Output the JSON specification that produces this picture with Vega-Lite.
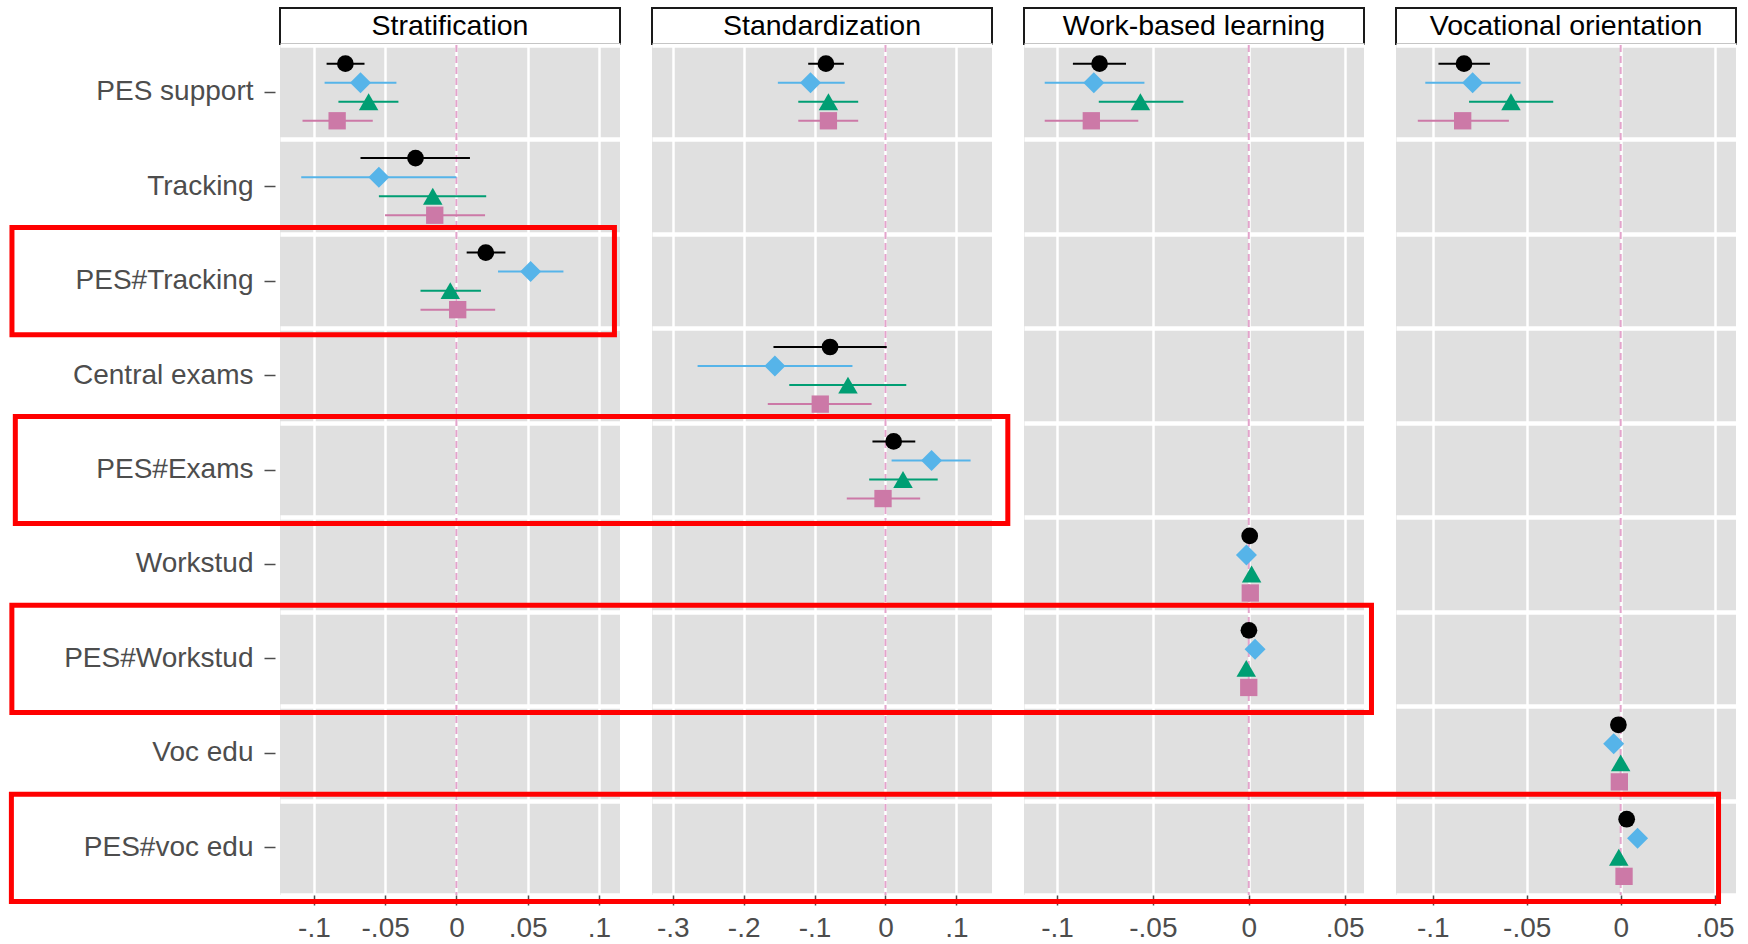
{
  "$schema": "https://vega.github.io/schema/vega-lite/v6.json",
  "background": "white",
  "padding": {"left": 8, "top": 7, "right": 5, "bottom": 5},
  "config": {"font": "Liberation Sans"},
  "datasets": {
    "est": [
      {"panel":"Stratification","term":"PES support","grp":"M1","est":-0.0779,"lo":-0.0911,"hi":-0.0645},
      {"panel":"Stratification","term":"PES support","grp":"M2","est":-0.0673,"lo":-0.0925,"hi":-0.0421},
      {"panel":"Stratification","term":"PES support","grp":"M3","est":-0.0616,"lo":-0.0828,"hi":-0.0407},
      {"panel":"Stratification","term":"PES support","grp":"M4","est":-0.0837,"lo":-0.108,"hi":-0.0587},
      {"panel":"Stratification","term":"Tracking","grp":"M1","est":-0.0287,"lo":-0.0673,"hi":0.0095},
      {"panel":"Stratification","term":"Tracking","grp":"M2","est":-0.0544,"lo":-0.1089,"hi":0.0},
      {"panel":"Stratification","term":"Tracking","grp":"M3","est":-0.0166,"lo":-0.0544,"hi":0.0209},
      {"panel":"Stratification","term":"Tracking","grp":"M4","est":-0.0152,"lo":-0.0501,"hi":0.0201},
      {"panel":"Stratification","term":"PES#Tracking","grp":"M1","est":0.0206,"lo":0.0072,"hi":0.0344},
      {"panel":"Stratification","term":"PES#Tracking","grp":"M2","est":0.0521,"lo":0.0292,"hi":0.0751},
      {"panel":"Stratification","term":"PES#Tracking","grp":"M3","est":-0.0043,"lo":-0.0252,"hi":0.0172},
      {"panel":"Stratification","term":"PES#Tracking","grp":"M4","est":0.0009,"lo":-0.0252,"hi":0.0272},
      {"panel":"Standardization","term":"PES support","grp":"M1","est":-0.084,"lo":-0.109,"hi":-0.0587},
      {"panel":"Standardization","term":"PES support","grp":"M2","est":-0.1058,"lo":-0.1518,"hi":-0.0575},
      {"panel":"Standardization","term":"PES support","grp":"M3","est":-0.0805,"lo":-0.123,"hi":-0.0385},
      {"panel":"Standardization","term":"PES support","grp":"M4","est":-0.0805,"lo":-0.123,"hi":-0.0385},
      {"panel":"Standardization","term":"Central exams","grp":"M1","est":-0.0782,"lo":-0.158,"hi":0.0017},
      {"panel":"Standardization","term":"Central exams","grp":"M2","est":-0.156,"lo":-0.265,"hi":-0.0466},
      {"panel":"Standardization","term":"Central exams","grp":"M3","est":-0.0529,"lo":-0.1357,"hi":0.0293},
      {"panel":"Standardization","term":"Central exams","grp":"M4","est":-0.092,"lo":-0.166,"hi":-0.0196},
      {"panel":"Standardization","term":"PES#Exams","grp":"M1","est":0.0115,"lo":-0.0184,"hi":0.042},
      {"panel":"Standardization","term":"PES#Exams","grp":"M2","est":0.065,"lo":0.0086,"hi":0.12},
      {"panel":"Standardization","term":"PES#Exams","grp":"M3","est":0.0247,"lo":-0.023,"hi":0.0736},
      {"panel":"Standardization","term":"PES#Exams","grp":"M4","est":-0.0035,"lo":-0.0546,"hi":0.0489},
      {"panel":"Work-based learning","term":"PES support","grp":"M1","est":-0.0778,"lo":-0.0917,"hi":-0.064},
      {"panel":"Work-based learning","term":"PES support","grp":"M2","est":-0.0808,"lo":-0.1064,"hi":-0.0544},
      {"panel":"Work-based learning","term":"PES support","grp":"M3","est":-0.0565,"lo":-0.0782,"hi":-0.0341},
      {"panel":"Work-based learning","term":"PES support","grp":"M4","est":-0.0821,"lo":-0.1064,"hi":-0.0576},
      {"panel":"Work-based learning","term":"Workstud","grp":"M1","est":0.0005,"lo":0.0001,"hi":0.0009},
      {"panel":"Work-based learning","term":"Workstud","grp":"M2","est":-0.0012,"lo":-0.0016,"hi":-0.0008},
      {"panel":"Work-based learning","term":"Workstud","grp":"M3","est":0.0015,"lo":0.0011,"hi":0.0019},
      {"panel":"Work-based learning","term":"Workstud","grp":"M4","est":0.0008,"lo":0.0004,"hi":0.0012},
      {"panel":"Work-based learning","term":"PES#Workstud","grp":"M1","est":0.0001,"lo":-0.0003,"hi":0.0005},
      {"panel":"Work-based learning","term":"PES#Workstud","grp":"M2","est":0.0033,"lo":0.0029,"hi":0.0037},
      {"panel":"Work-based learning","term":"PES#Workstud","grp":"M3","est":-0.0013,"lo":-0.0017,"hi":-0.0009},
      {"panel":"Work-based learning","term":"PES#Workstud","grp":"M4","est":0.0,"lo":-0.0004,"hi":0.0004},
      {"panel":"Vocational orientation","term":"PES support","grp":"M1","est":-0.0834,"lo":-0.097,"hi":-0.0696},
      {"panel":"Vocational orientation","term":"PES support","grp":"M2","est":-0.0788,"lo":-0.104,"hi":-0.0533},
      {"panel":"Vocational orientation","term":"PES support","grp":"M3","est":-0.0584,"lo":-0.0807,"hi":-0.0359},
      {"panel":"Vocational orientation","term":"PES support","grp":"M4","est":-0.0841,"lo":-0.108,"hi":-0.0595},
      {"panel":"Vocational orientation","term":"Voc edu","grp":"M1","est":-0.0012,"lo":-0.0016,"hi":-0.0008},
      {"panel":"Vocational orientation","term":"Voc edu","grp":"M2","est":-0.0037,"lo":-0.0041,"hi":-0.0033},
      {"panel":"Vocational orientation","term":"Voc edu","grp":"M3","est":0.0,"lo":-0.0004,"hi":0.0004},
      {"panel":"Vocational orientation","term":"Voc edu","grp":"M4","est":-0.0007,"lo":-0.0011,"hi":-0.0003},
      {"panel":"Vocational orientation","term":"PES#voc edu","grp":"M1","est":0.0032,"lo":0.0028,"hi":0.0036},
      {"panel":"Vocational orientation","term":"PES#voc edu","grp":"M2","est":0.009,"lo":0.0086,"hi":0.0094},
      {"panel":"Vocational orientation","term":"PES#voc edu","grp":"M3","est":-0.001,"lo":-0.0014,"hi":-0.0006},
      {"panel":"Vocational orientation","term":"PES#voc edu","grp":"M4","est":0.0018,"lo":0.0014,"hi":0.0022}
    ],
    "boxes": [
      {"panel":"Stratification","term":"PES#Tracking","from":-0.3119,"to":0.1109},
      {"panel":"Standardization","term":"PES#Exams","from":-1.2272,"to":0.1725},
      {"panel":"Work-based learning","term":"PES#Workstud","from":-0.645,"to":0.064},
      {"panel":"Vocational orientation","term":"PES#voc edu","from":-0.8567,"to":0.0521}
    ]
  },
  "columns": 4,
  "bounds": "flush",
  "align": "each",
  "spacing": {"row": 1, "column": 32},
  "concat": [
    {"width": 340, "height": 36, "view": {"fill": "white", "stroke": "#1a1a1a", "strokeWidth": 2},
     "data": {"values": [{"panel": "Stratification"}]},
     "mark": {"type": "text", "fontSize": 28.5, "color": "#000000"},
     "encoding": {"text": {"field": "panel"}}},
    {"width": 340, "height": 36, "view": {"fill": "white", "stroke": "#1a1a1a", "strokeWidth": 2},
     "data": {"values": [{"panel": "Standardization"}]},
     "mark": {"type": "text", "fontSize": 28.5, "color": "#000000"},
     "encoding": {"text": {"field": "panel"}}},
    {"width": 340, "height": 36, "view": {"fill": "white", "stroke": "#1a1a1a", "strokeWidth": 2},
     "data": {"values": [{"panel": "Work-based learning"}]},
     "mark": {"type": "text", "fontSize": 28.5, "color": "#000000"},
     "encoding": {"text": {"field": "panel"}}},
    {"width": 340, "height": 36, "view": {"fill": "white", "stroke": "#1a1a1a", "strokeWidth": 2},
     "data": {"values": [{"panel": "Vocational orientation"}]},
     "mark": {"type": "text", "fontSize": 28.5, "color": "#000000"},
     "encoding": {"text": {"field": "panel"}}},

    {"width": 340, "height": 850, "view": {"fill": "#E0E0E0", "stroke": null},
     "resolve": {"axis": {"y": "independent"}},
     "layer": [
      {"data": {"values": [{}]},
       "mark": {"type": "rule", "color": "#E3A3CB", "strokeDash": [7, 4], "strokeWidth": 2},
       "encoding": {"x": {"datum": 0, "type": "quantitative"}}},
      {"data": {"name": "est"}, "transform": [{"filter": "datum.panel === 'Stratification'"}],
       "mark": {"type": "rule", "strokeWidth": 2},
       "encoding": {
         "y": {"field": "term", "type": "nominal",
               "scale": {"domain": ["PES support","Tracking","PES#Tracking","Central exams","PES#Exams","Workstud","PES#Workstud","Voc edu","PES#voc edu"], "paddingInner": 0, "paddingOuter": 0},
               "axis": {"orient": "left", "title": null, "domain": false, "grid": false, "ticks": true, "tickSize": 11, "tickWidth": 1.5, "tickColor": "#4d4d4d", "labelFontSize": 28, "labelColor": "#4d4d4d", "labelPadding": 11, "labelLimit": 400, "offset": 5}},
         "yOffset": {"field": "grp", "type": "nominal", "scale": {"domain": ["M1","M2","M3","M4"], "paddingInner": 0, "paddingOuter": 0.48}},
         "x": {"field": "lo", "type": "quantitative",
               "scale": {"domain": [-0.1238, 0.1148], "nice": false, "zero": false},
               "axis": {"title": null, "values": [-0.1, -0.05, 0, 0.05, 0.1], "labelExpr": "datum.value == 0 ? '0' : (datum.value < 0 ? '-' : '') + replace(format(abs(datum.value), '.2~f'), '0.', '.')", "domain": false, "grid": true, "gridColor": "#ffffff", "gridWidth": 2.5, "tickSize": 10, "tickWidth": 1.5, "tickColor": "#4d4d4d", "labelFontSize": 28, "labelColor": "#4d4d4d", "labelPadding": 9, "labelFlush": false, "labelOverlap": false}},
         "x2": {"field": "hi"},
         "color": {"field": "grp", "type": "nominal", "scale": {"domain": ["M1","M2","M3","M4"], "range": ["#000000","#56B4E9","#009E73","#CC79A7"]}, "legend": null}
       }},
      {"data": {"name": "est"}, "transform": [{"filter": "datum.panel === 'Stratification'"}],
       "mark": {"type": "point", "filled": true, "opacity": 1},
       "encoding": {
         "y": {"field": "term", "type": "nominal",
               "axis": {"orient": "left", "title": null, "domain": false, "labels": false, "ticks": false, "grid": true, "tickBand": "extent", "gridColor": "#ffffff", "gridWidth": 4.5}},
         "yOffset": {"field": "grp", "type": "nominal"},
         "x": {"field": "est", "type": "quantitative"},
         "color": {"field": "grp", "type": "nominal", "legend": null},
         "shape": {"field": "grp", "type": "nominal", "scale": {"domain": ["M1","M2","M3","M4"], "range": ["circle","diamond","triangle-up","square"]}, "legend": null},
         "size": {"condition": [{"test": "datum.grp === 'M2'", "value": 441}, {"test": "datum.grp === 'M3'", "value": 380}, {"test": "datum.grp === 'M4'", "value": 300}], "value": 280}
       }},
      {"data": {"name": "boxes"}, "transform": [{"filter": "datum.panel === 'Stratification'"}],
       "mark": {"type": "bar", "fill": "transparent", "stroke": "#FF0000", "strokeWidth": 5, "height": {"band": 1.135}, "clip": false},
       "encoding": {
         "y": {"field": "term", "type": "nominal", "axis": null},
         "x": {"field": "from", "type": "quantitative"},
         "x2": {"field": "to"}
       }}
     ]},

    {"width": 340, "height": 850, "view": {"fill": "#E0E0E0", "stroke": null},
     "layer": [
      {"data": {"values": [{}]},
       "mark": {"type": "rule", "color": "#E3A3CB", "strokeDash": [7, 4], "strokeWidth": 2},
       "encoding": {"x": {"datum": 0, "type": "quantitative"}}},
      {"data": {"name": "est"}, "transform": [{"filter": "datum.panel === 'Standardization'"}],
       "mark": {"type": "rule", "strokeWidth": 2},
       "encoding": {
         "y": {"field": "term", "type": "nominal",
               "scale": {"domain": ["PES support","Tracking","PES#Tracking","Central exams","PES#Exams","Workstud","PES#Workstud","Voc edu","PES#voc edu"], "paddingInner": 0, "paddingOuter": 0},
               "axis": {"orient": "left", "title": null, "domain": false, "labels": false, "ticks": false, "grid": true, "tickBand": "extent", "gridColor": "#ffffff", "gridWidth": 4.5}},
         "yOffset": {"field": "grp", "type": "nominal", "scale": {"domain": ["M1","M2","M3","M4"], "paddingInner": 0, "paddingOuter": 0.48}},
         "x": {"field": "lo", "type": "quantitative",
               "scale": {"domain": [-0.3293, 0.1502], "nice": false, "zero": false},
               "axis": {"title": null, "values": [-0.3, -0.2, -0.1, 0, 0.1], "labelExpr": "datum.value == 0 ? '0' : (datum.value < 0 ? '-' : '') + replace(format(abs(datum.value), '.2~f'), '0.', '.')", "domain": false, "grid": true, "gridColor": "#ffffff", "gridWidth": 2.5, "tickSize": 10, "tickWidth": 1.5, "tickColor": "#4d4d4d", "labelFontSize": 28, "labelColor": "#4d4d4d", "labelPadding": 9, "labelFlush": false, "labelOverlap": false}},
         "x2": {"field": "hi"},
         "color": {"field": "grp", "type": "nominal", "scale": {"domain": ["M1","M2","M3","M4"], "range": ["#000000","#56B4E9","#009E73","#CC79A7"]}, "legend": null}
       }},
      {"data": {"name": "est"}, "transform": [{"filter": "datum.panel === 'Standardization'"}],
       "mark": {"type": "point", "filled": true, "opacity": 1},
       "encoding": {
         "y": {"field": "term", "type": "nominal"},
         "yOffset": {"field": "grp", "type": "nominal"},
         "x": {"field": "est", "type": "quantitative"},
         "color": {"field": "grp", "type": "nominal", "legend": null},
         "shape": {"field": "grp", "type": "nominal", "scale": {"domain": ["M1","M2","M3","M4"], "range": ["circle","diamond","triangle-up","square"]}, "legend": null},
         "size": {"condition": [{"test": "datum.grp === 'M2'", "value": 441}, {"test": "datum.grp === 'M3'", "value": 380}, {"test": "datum.grp === 'M4'", "value": 300}], "value": 280}
       }},
      {"data": {"name": "boxes"}, "transform": [{"filter": "datum.panel === 'Standardization'"}],
       "mark": {"type": "bar", "fill": "transparent", "stroke": "#FF0000", "strokeWidth": 5, "height": {"band": 1.135}, "clip": false},
       "encoding": {
         "y": {"field": "term", "type": "nominal"},
         "x": {"field": "from", "type": "quantitative"},
         "x2": {"field": "to"}
       }}
     ]},

    {"width": 340, "height": 850, "view": {"fill": "#E0E0E0", "stroke": null},
     "layer": [
      {"data": {"values": [{}]},
       "mark": {"type": "rule", "color": "#E3A3CB", "strokeDash": [7, 4], "strokeWidth": 2},
       "encoding": {"x": {"datum": 0, "type": "quantitative"}}},
      {"data": {"name": "est"}, "transform": [{"filter": "datum.panel === 'Work-based learning'"}],
       "mark": {"type": "rule", "strokeWidth": 2},
       "encoding": {
         "y": {"field": "term", "type": "nominal",
               "scale": {"domain": ["PES support","Tracking","PES#Tracking","Central exams","PES#Exams","Workstud","PES#Workstud","Voc edu","PES#voc edu"], "paddingInner": 0, "paddingOuter": 0},
               "axis": {"orient": "left", "title": null, "domain": false, "labels": false, "ticks": false, "grid": true, "tickBand": "extent", "gridColor": "#ffffff", "gridWidth": 4.5}},
         "yOffset": {"field": "grp", "type": "nominal", "scale": {"domain": ["M1","M2","M3","M4"], "paddingInner": 0, "paddingOuter": 0.48}},
         "x": {"field": "lo", "type": "quantitative",
               "scale": {"domain": [-0.1172, 0.0601], "nice": false, "zero": false},
               "axis": {"title": null, "values": [-0.1, -0.05, 0, 0.05], "labelExpr": "datum.value == 0 ? '0' : (datum.value < 0 ? '-' : '') + replace(format(abs(datum.value), '.2~f'), '0.', '.')", "domain": false, "grid": true, "gridColor": "#ffffff", "gridWidth": 2.5, "tickSize": 10, "tickWidth": 1.5, "tickColor": "#4d4d4d", "labelFontSize": 28, "labelColor": "#4d4d4d", "labelPadding": 9, "labelFlush": false, "labelOverlap": false}},
         "x2": {"field": "hi"},
         "color": {"field": "grp", "type": "nominal", "scale": {"domain": ["M1","M2","M3","M4"], "range": ["#000000","#56B4E9","#009E73","#CC79A7"]}, "legend": null}
       }},
      {"data": {"name": "est"}, "transform": [{"filter": "datum.panel === 'Work-based learning'"}],
       "mark": {"type": "point", "filled": true, "opacity": 1},
       "encoding": {
         "y": {"field": "term", "type": "nominal"},
         "yOffset": {"field": "grp", "type": "nominal"},
         "x": {"field": "est", "type": "quantitative"},
         "color": {"field": "grp", "type": "nominal", "legend": null},
         "shape": {"field": "grp", "type": "nominal", "scale": {"domain": ["M1","M2","M3","M4"], "range": ["circle","diamond","triangle-up","square"]}, "legend": null},
         "size": {"condition": [{"test": "datum.grp === 'M2'", "value": 441}, {"test": "datum.grp === 'M3'", "value": 380}, {"test": "datum.grp === 'M4'", "value": 300}], "value": 280}
       }},
      {"data": {"name": "boxes"}, "transform": [{"filter": "datum.panel === 'Work-based learning'"}],
       "mark": {"type": "bar", "fill": "transparent", "stroke": "#FF0000", "strokeWidth": 5, "height": {"band": 1.135}, "clip": false},
       "encoding": {
         "y": {"field": "term", "type": "nominal"},
         "x": {"field": "from", "type": "quantitative"},
         "x2": {"field": "to"}
       }}
     ]},

    {"width": 340, "height": 850, "view": {"fill": "#E0E0E0", "stroke": null},
     "layer": [
      {"data": {"values": [{}]},
       "mark": {"type": "rule", "color": "#E3A3CB", "strokeDash": [7, 4], "strokeWidth": 2},
       "encoding": {"x": {"datum": 0, "type": "quantitative"}}},
      {"data": {"name": "est"}, "transform": [{"filter": "datum.panel === 'Vocational orientation'"}],
       "mark": {"type": "rule", "strokeWidth": 2},
       "encoding": {
         "y": {"field": "term", "type": "nominal",
               "scale": {"domain": ["PES support","Tracking","PES#Tracking","Central exams","PES#Exams","Workstud","PES#Workstud","Voc edu","PES#voc edu"], "paddingInner": 0, "paddingOuter": 0},
               "axis": {"orient": "left", "title": null, "domain": false, "labels": false, "ticks": false, "grid": true, "tickBand": "extent", "gridColor": "#ffffff", "gridWidth": 4.5}},
         "yOffset": {"field": "grp", "type": "nominal", "scale": {"domain": ["M1","M2","M3","M4"], "paddingInner": 0, "paddingOuter": 0.48}},
         "x": {"field": "lo", "type": "quantitative",
               "scale": {"domain": [-0.1196, 0.0614], "nice": false, "zero": false},
               "axis": {"title": null, "values": [-0.1, -0.05, 0, 0.05], "labelExpr": "datum.value == 0 ? '0' : (datum.value < 0 ? '-' : '') + replace(format(abs(datum.value), '.2~f'), '0.', '.')", "domain": false, "grid": true, "gridColor": "#ffffff", "gridWidth": 2.5, "tickSize": 10, "tickWidth": 1.5, "tickColor": "#4d4d4d", "labelFontSize": 28, "labelColor": "#4d4d4d", "labelPadding": 9, "labelFlush": false, "labelOverlap": false}},
         "x2": {"field": "hi"},
         "color": {"field": "grp", "type": "nominal", "scale": {"domain": ["M1","M2","M3","M4"], "range": ["#000000","#56B4E9","#009E73","#CC79A7"]}, "legend": null}
       }},
      {"data": {"name": "est"}, "transform": [{"filter": "datum.panel === 'Vocational orientation'"}],
       "mark": {"type": "point", "filled": true, "opacity": 1},
       "encoding": {
         "y": {"field": "term", "type": "nominal"},
         "yOffset": {"field": "grp", "type": "nominal"},
         "x": {"field": "est", "type": "quantitative"},
         "color": {"field": "grp", "type": "nominal", "legend": null},
         "shape": {"field": "grp", "type": "nominal", "scale": {"domain": ["M1","M2","M3","M4"], "range": ["circle","diamond","triangle-up","square"]}, "legend": null},
         "size": {"condition": [{"test": "datum.grp === 'M2'", "value": 441}, {"test": "datum.grp === 'M3'", "value": 380}, {"test": "datum.grp === 'M4'", "value": 300}], "value": 280}
       }},
      {"data": {"name": "boxes"}, "transform": [{"filter": "datum.panel === 'Vocational orientation'"}],
       "mark": {"type": "bar", "fill": "transparent", "stroke": "#FF0000", "strokeWidth": 5, "height": {"band": 1.135}, "clip": false},
       "encoding": {
         "y": {"field": "term", "type": "nominal"},
         "x": {"field": "from", "type": "quantitative"},
         "x2": {"field": "to"}
       }}
     ]}
  ]
}
